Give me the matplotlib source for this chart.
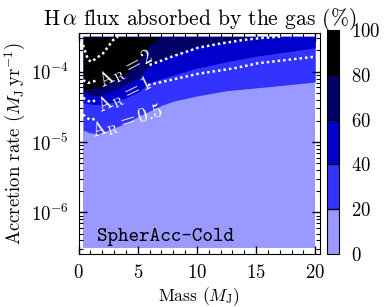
import matplotlib
matplotlib.use('Agg')
import matplotlib.pyplot as plt
import matplotlib.ticker as ticker
from matplotlib.colors import ListedColormap, BoundaryNorm
import matplotlib.cm as cm
import numpy as np

plt.rcParams['font.family'] = 'cmr10'
plt.rcParams['mathtext.fontset'] = 'cm'
plt.rcParams['axes.formatter.use_mathtext'] = True
plt.rcParams['axes.unicode_minus'] = False

# absorbed fraction bands, log10 of accretion rate at the band edges
masses = [0.4, 1.0, 1.7, 3.0, 4.0, 5.0, 6.0, 7.0, 8.0, 10.0, 12.5, 15.0, 17.5, 20.0]
edge20 = [-4.83, -4.87, -4.88, -4.80, -4.73, -4.64, -4.56, -4.48, -4.42, -4.345, -4.27, -4.23, -4.19, -4.145]
edge40 = [-4.44, -4.46, -4.47, -4.43, -4.37, -4.29, -4.16, -4.10, -4.05, -3.95, -3.86, -3.78, -3.72, -3.66]
edge60 = [-4.31, -4.33, -4.34, -4.26, -4.18, -4.09, -3.92, -3.84, -3.76, -3.64, -3.57, -3.52, -3.50, -3.50]
edge80 = [-4.25, -4.24, -4.22, -4.12, -4.03, -3.85, -3.62, -3.50, -3.50, -3.50, -3.50, -3.50, -3.50, -3.50]
log_mdot_min = -6.5
log_mdot_max = -3.5

levels = [0, 20, 40, 60, 80, 100]
band_colors = ['#9999ff', '#3333ff', '#0000cc', '#000066', '#000000']

# A_R contours (dotted), split where the inline label sits
ar_top_m = [0.38, 0.80, 1.08, 2.07, 2.92, 3.34]
ar_top_y = [-3.62, -3.83, -3.86, -3.74, -3.55, -3.50]
ar2_m_a = [0.38, 0.80, 1.65]
ar2_y_a = [-4.12, -4.16, -4.12]
ar2_m_b = [6.0, 8.0, 10.1, 12.0, 13.9, 15.5, 17.3]
ar2_y_b = [-3.905, -3.78, -3.66, -3.60, -3.55, -3.52, -3.50]
ar1_m_a = [0.38, 0.97, 1.65]
ar1_y_a = [-4.37, -4.43, -4.40]
ar1_m_b = [5.87, 10.1, 13.2, 15.17, 19.8]
ar1_y_b = [-4.19, -4.03, -3.95, -3.88, -3.79]
ar05_m_a = [0.38, 0.97, 1.39]
ar05_y_a = [-4.61, -4.685, -4.67]

ar_labels = [r'$\mathrm{A_R} = 2$', r'$\mathrm{A_R} = 1$', r'$\mathrm{A_R} = 0.5$']
ar_label_m = [4.0, 3.95, 4.15]
ar_label_y = [-3.97, -4.345, -4.71]
ar_label_rot = [28, 26, 17]

fig = plt.figure(figsize=(3.91, 3.07), dpi=100)
ax = fig.add_axes([0.2008, 0.1726, 0.6176, 0.72])
cax = fig.add_axes([0.8355, 0.1726, 0.0315, 0.7297])

m = np.array(masses)
top = np.full(len(m), 10**log_mdot_max)
ax.fill_between(m, 10**log_mdot_min, 10**log_mdot_max, color=band_colors[0], lw=0)
for edge, col in zip([edge20, edge40, edge60, edge80], band_colors[1:]):
    ax.fill_between(m, 10**np.array(edge), top, color=col, lw=0)

dots = dict(color='white', lw=1.8, ls=(0, (1, 1.2)), dash_capstyle='butt')
for xs, ys in [(ar_top_m, ar_top_y), (ar2_m_a, ar2_y_a), (ar2_m_b, ar2_y_b),
               (ar1_m_a, ar1_y_a), (ar1_m_b, ar1_y_b), (ar05_m_a, ar05_y_a)]:
    ax.plot(xs, 10**np.array(ys), **dots)

for lab, xm, ym, rot in zip(ar_labels, ar_label_m, ar_label_y, ar_label_rot):
    ax.text(xm, 10**ym, lab, color='white', fontsize=14, rotation=rot,
            ha='center', va='center', rotation_mode='anchor')

ax.text(1.55, 10**-6.41, 'SpherAcc-Cold', family='cmtt10', fontsize=14.5,
        ha='left', va='baseline')

ax.set_yscale('log')
ax.set_xlim(0, 20.4)
ax.set_ylim(10**-6.59, 10**-3.45)
ax.xaxis.set_major_locator(ticker.MultipleLocator(5))
ax.xaxis.set_minor_locator(ticker.MultipleLocator(1))
ax.tick_params(which='both', direction='in', top=True, right=True, labelsize=13.5)
ax.tick_params(which='major', length=6, width=1)
ax.tick_params(which='minor', length=3, width=0.8)
ax.tick_params(axis='x', pad=7.5)
ax.tick_params(axis='y', pad=7)
ax.set_xlabel(r'Mass ($M_\mathrm{J}$)', fontsize=12.5)
ax.xaxis.set_label_coords(0.5, -0.142)
ax.set_ylabel(r'Accretion rate ($M_\mathrm{J}\,\mathrm{yr}^{-1}$)', fontsize=13.5, labelpad=2)
ax.set_title(r'H$\,\alpha$ flux absorbed by the gas (%)', fontsize=15.5, pad=6)

cmap = ListedColormap(band_colors)
norm = BoundaryNorm(levels, cmap.N)
sm = cm.ScalarMappable(norm=norm, cmap=cmap)
cb = fig.colorbar(sm, cax=cax, ticks=levels, drawedges=True)
cb.ax.tick_params(length=0, labelsize=13.5, pad=9)
cb.dividers.set_linewidth(1)

fig.savefig('out.png', dpi=100)
